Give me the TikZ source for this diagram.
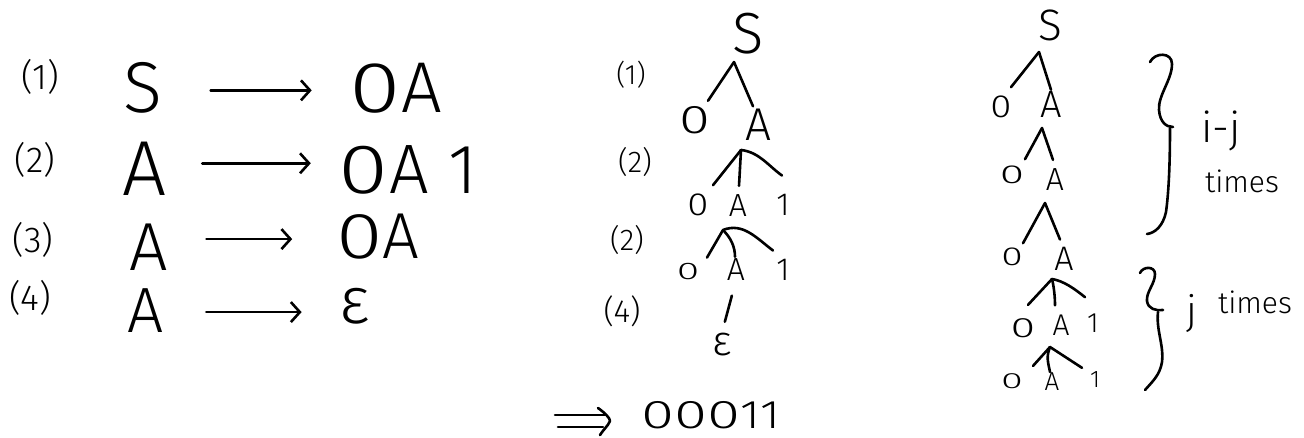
\documentclass[tikz,border=0pt]{standalone}
\usepackage{fontspec}
\setmainfont{Fira Sans}[UprightFont=* Light]
\usetikzlibrary{arrows.meta}
\newcommand\hsz[1]{\fontsize{#1}{#1}\selectfont}
\newcommand\wz[1]{\scalebox{#1}[1]{0}}
\tikzset{
  lbl/.style={inner sep=0pt, anchor=center},
  sym/.style={inner sep=0pt, anchor=base},
  br/.style={line width=2.6pt, line cap=round, line join=round},
  arr/.style={line width=2.6pt, line cap=round, -{Straight Barb[length=9pt,width=20pt,line width=2.6pt]}}
}
\begin{document}
\begin{tikzpicture}[x=1pt,y=-1pt]
\useasboundingbox[fill=white] (0,0) rectangle (1304,437);

% ---------- left: grammar ----------
\node[lbl,font=\hsz{36}] (n1) at (40,77) {(1)};
\node[lbl,font=\hsz{36}] (n2) at (35,160) {(2)};
\node[lbl,font=\hsz{36}] (n3) at (33,240) {(3)};
\node[lbl,font=\hsz{36}] (n4) at (30,298) {(4)};
\node[sym,font=\hsz{72}] (l1) at (143,112) {S};
\node[sym,font=\hsz{78}] (l2) at (145,195) {A};
\node[sym,font=\hsz{68}] (l3) at (149,270) {A};
\node[sym,font=\hsz{64}] (l4) at (146,332) {A};
\node[sym,font=\hsz{72}] (r1) at (396,112) {\wz{1.3}A};
\node[sym,font=\hsz{70}] (r2) at (408,193) {\wz{1.3}A 1};
\node[sym,font=\hsz{65}] (r3) at (378,258) {\wz{1.3}A};
\node[sym,font=\hsz{66}] (r4) at (355,323) {ε};
\draw[arr,shorten <=48pt,shorten >=38pt] ([yshift=-3pt]l1.east) -- ([yshift=-3pt]l1.east -| r1.west);
\draw[arr,shorten <=35pt,shorten >=28pt] ([yshift=5pt]l2.east) -- ([yshift=5pt]l2.east -| r2.west);
\draw[arr,shorten <=38pt,shorten >=44pt] ([yshift=-3pt]r3.west -| l3.east) -- ([yshift=-3pt]r3.west);
\draw[arr,shorten <=42pt,shorten >=38pt] ([yshift=-2pt]l4.east) -- ([yshift=-2pt]l4.east -| r4.west);

% ---------- middle tree ----------
\node[lbl,font=\hsz{28}] (m1l) at (631,75) {(1)};
\node[lbl,font=\hsz{30}] (m2l) at (635,162) {(2)};
\node[lbl,font=\hsz{30}] (m3l) at (627,240) {(2)};
\node[lbl,font=\hsz{32}] (m4l) at (622,311) {(4)};
\node[sym,font=\hsz{58}] (ms) at (748,53) {S};
\coordinate (mr1) at (734,62);
\node[sym,font=\hsz{40}] (mo1) at (695,133) {\wz{1.4}};
\node[sym,font=\hsz{46}] (ma1) at (758,140) {A};
\draw[br] (mr1) -- ([shift={(13,-5)}]mo1.north);
\draw[br] (mr1) -- ([shift={(-5,-2)}]ma1.north);
\coordinate (mr2) at (741,150);
\node[sym,font=\hsz{32}] (mo2) at (698,215) {\wz{1.2}};
\node[sym,font=\hsz{32}] (ma2) at (738,216) {A};
\node[sym,font=\hsz{32}] (m12) at (783,215) {1};
\draw[br] (mr2) -- ([shift={(15,-8)}]mo2.north);
\draw[br] (mr2) -- ([shift={(1,-8)}]ma2.north);
\draw[br] (mr2) .. controls +(18,2) and +(-14,-10) .. ([shift={(-1,-18)}]m12.north);
\coordinate (mr3) at (723,230);
\node[sym,font=\hsz{24}] (mo3) at (688,279) {\wz{1.7}};
\node[sym,font=\hsz{32}] (ma3) at (736,280) {A};
\node[sym,font=\hsz{32}] (m13) at (783,280) {1};
\draw[br] (mr3) -- ([shift={(19,-5)}]mo3.north);
\draw[br] (mr3) .. controls +(8,8) and +(0,-10) .. ([shift={(-1,-1)}]ma3.north);
\draw[br] (mr3) .. controls +(20,-8) and +(-16,-12) .. ([shift={(-10,-8)}]m13.north);
\node[sym,font=\hsz{42}] (meps) at (722,355) {ε};
\draw[br,shorten <=16pt,shorten >=11pt] (ma3.south) -- (meps.north);

% ---------- result ----------
\draw[br] (555,415) -- (605,415);
\draw[br] (558,427) -- (603,427);
\draw[br] (598,408) .. controls (605,413) and (610,418) .. (610,421) .. controls (608,426) and (603,430) .. (600,435);
\node[sym,font=\hsz{40}] (res) at (711,428) {\scalebox{1.5}[1]{000}\scalebox{1.2}[1]{11}};

% ---------- right tree ----------
\node[sym,font=\hsz{44}] (ts) at (1050,40) {S};
\coordinate (tr1) at (1039,52);
\node[sym,font=\hsz{32}] (to1) at (1001,117) {\wz{1.2}};
\node[sym,font=\hsz{38}] (ta1) at (1051,117) {A};
\draw[br] (tr1) -- ([shift={(10,-8)}]to1.north);
\draw[br] (tr1) -- ([shift={(0,-1)}]ta1.north);
\coordinate (tr2) at (1042,128);
\node[sym,font=\hsz{26}] (to2) at (1012,183) {\wz{1.7}};
\node[sym,font=\hsz{32}] (ta2) at (1055,190) {A};
\draw[br] (tr2) -- ([shift={(13,-6)}]to2.north);
\draw[br] (tr2) -- ([shift={(-2,-8)}]ta2.north);
\coordinate (tr3) at (1045,203);
\node[sym,font=\hsz{26}] (to3) at (1012,265) {\wz{1.5}};
\node[sym,font=\hsz{34}] (ta3) at (1064,270) {A};
\draw[br] (tr3) -- ([shift={(11,-4)}]to3.north);
\draw[br] (tr3) -- ([shift={(-4,-7)}]ta3.north);
\coordinate (tr4) at (1052,279);
\node[sym,font=\hsz{28}] (to4) at (1023,337) {\wz{1.6}};
\node[sym,font=\hsz{30}] (ta4) at (1061,335) {A};
\node[sym,font=\hsz{28}] (t14) at (1093,332) {1};
\draw[br] (tr4) -- ([shift={(5,-13)}]to4.north);
\draw[br] (tr4) .. controls +(2,8) and +(0,-8) .. ([shift={(-6,-9)}]ta4.north);
\draw[br] (tr4) .. controls +(12,2) and +(-10,-8) .. ([shift={(-8,-16)}]t14.north);
\coordinate (tr5) at (1050,347);
\node[sym,font=\hsz{22}] (to5) at (1012,388) {\wz{1.8}};
\node[sym,font=\hsz{26}] (ta5) at (1052,390) {A};
\node[sym,font=\hsz{24}] (t15) at (1095,387) {1};
\draw[br] (tr5) -- ([shift={(21,-7)}]to5.north);
\draw[br] (tr5) .. controls +(-4,10) and +(-2,-10) .. ([shift={(-2,0)}]ta5.north);
\draw[br] (tr5) -- ([shift={(-13,-3)}]t15.north);

% braces and labels
\draw[br] (1150,62) .. controls (1155,52) and (1172,52) .. (1172,64) .. controls (1172,80) and (1158,95) .. (1159,110) .. controls (1160,122) and (1166,127) .. (1173,127);
\draw[br] (1170,128) .. controls (1170,160) and (1169,190) .. (1166,212) .. controls (1163,226) and (1155,233) .. (1147,234);
\draw[br] (1140,273) .. controls (1143,266) and (1155,266) .. (1155,274) .. controls (1155,284) and (1146,292) .. (1147,301) .. controls (1148,309) and (1156,311) .. (1163,310);
\draw[br] (1158,312) .. controls (1156,330) and (1164,345) .. (1162,362) .. controls (1160,375) and (1152,382) .. (1145,390);
\node[sym,font=\hsz{42}] (ij) at (1221,142) {i-j};
\node[sym,font=\hsz{30}] (tm1) at (1242,192) {times};
\node[sym,font=\hsz{40}] (jj) at (1192,324) {j};
\node[sym,font=\hsz{30}] (tm2) at (1255,313) {times};
\end{tikzpicture}
\end{document}
